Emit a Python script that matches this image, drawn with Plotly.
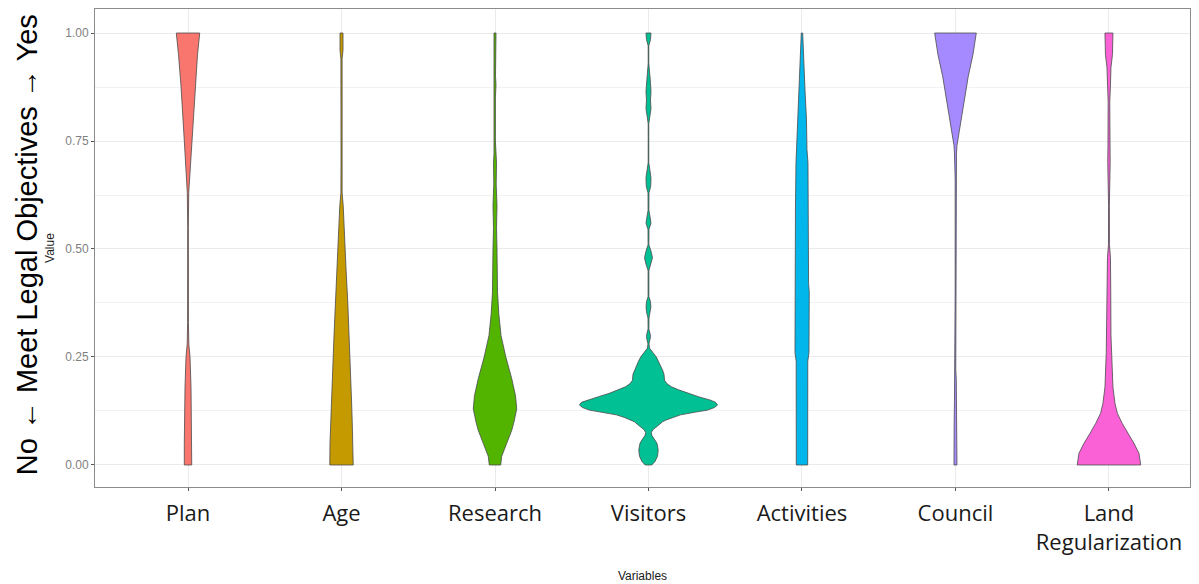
import plotly.graph_objects as go

# ---------------- data ----------------
variables = ["Plan", "Age", "Research", "Visitors", "Activities", "Council", "Land<br>Regularization"]

# density profiles: value grid and (relative) density at each value
plan_value = [0, 0.05, 0.10, 0.18, 0.25, 0.28, 0.33, 0.40, 0.44, 0.47, 0.50, 0.55, 0.63, 0.68, 0.75, 0.877, 0.95, 1.0]
plan_density = [3.7, 3.7, 3.7, 3.0, 2.0, 0.8, 0.4, 0.3, 0.2, 0.05, 0.2, 0.3, 0.7, 2.0, 3.7, 7.0, 9.5, 11.7]

age_value = [0, 0.05, 0.10, 0.15, 0.20, 0.25, 0.30, 0.375, 0.45, 0.50, 0.55, 0.60, 0.63, 0.70, 0.80, 0.90, 0.94, 0.96, 1.0]
age_density = [11.7, 11.5, 10.7, 10.0, 9.3, 8.3, 7.5, 6.3, 4.6, 3.8, 2.7, 1.7, 0.6, 0.5, 0.5, 0.5, 0.6, 1.5, 1.5]

research_value = [0, 0.02, 0.05, 0.08, 0.10, 0.13, 0.16, 0.20, 0.25, 0.30, 0.35, 0.40, 0.50, 0.55, 0.60, 0.65, 0.70, 0.72, 0.75, 0.85, 0.88, 0.90, 0.95, 1.0]
research_density = [5.7, 6.7, 11.7, 16.7, 19.0, 21.7, 20.5, 16.7, 10.8, 6.0, 3.8, 2.5, 2.0, 1.5, 2.0, 1.2, 1.5, 1.0, 0.4, 0.4, 1.0, 0.5, 1.0, 1.0]

visitors_value = [0, 0.008, 0.02, 0.035, 0.05, 0.06, 0.068, 0.075, 0.082, 0.09, 0.10, 0.104, 0.11, 0.116, 0.122,
                  0.127, 0.133, 0.139, 0.145, 0.15, 0.158, 0.166, 0.174, 0.181, 0.188, 0.196, 0.21, 0.22, 0.228,
                  0.24, 0.25, 0.26, 0.27, 0.28, 0.29, 0.297, 0.305, 0.315, 0.34, 0.355, 0.366, 0.378, 0.39, 0.45,
                  0.465, 0.48, 0.495, 0.51, 0.545, 0.56, 0.575, 0.59, 0.63, 0.645, 0.665, 0.68, 0.70, 0.79, 0.81,
                  0.825, 0.845, 0.865, 0.885, 0.90, 0.93, 0.97, 0.985, 1.0]
visitors_density = [3.3, 6.5, 9.0, 9.7, 8.5, 6.0, 3.5, 2.8, 4.5, 9.0, 14.0, 17.5, 24.0, 32.0, 46.0,
                    59.0, 66.0, 69.0, 67.0, 62.0, 50.0, 39.0, 30.0, 23.0, 18.5, 16.0, 15.5, 14.0, 12.5,
                    10.0, 7.8, 4.5, 1.2, 0.5, 1.5, 2.0, 1.5, 0.4, 0.5, 2.0, 2.4, 2.0, 0.4, 0.4,
                    2.5, 4.0, 2.5, 0.4, 0.5, 2.5, 1.5, 0.4, 0.5, 2.2, 2.5, 1.5, 0.3, 0.3, 1.5,
                    2.5, 2.0, 2.5, 2.0, 1.2, 0.3, 0.3, 2.0, 2.5]

activities_value = [0, 0.10, 0.24, 0.26, 0.30, 0.40, 0.42, 0.60, 0.70, 0.73, 0.80, 0.87, 0.95, 1.0]
activities_density = [5.7, 5.8, 5.8, 7.0, 7.3, 7.3, 6.6, 6.5, 6.0, 5.0, 4.5, 3.0, 1.5, 0.7]

council_value = [0, 0.10, 0.15, 0.20, 0.22, 0.40, 0.66, 0.67, 0.70, 0.72, 0.74, 0.77, 0.80, 0.85, 0.90, 0.95, 1.0]
council_density = [1.5, 1.3, 1.0, 0.8, 0.3, 0.3, 0.3, 0.8, 0.8, 1.0, 1.5, 3.5, 5.5, 9.2, 12.8, 17.5, 20.8]

land_value = [0, 0.01, 0.027, 0.05, 0.073, 0.096, 0.12, 0.143, 0.18, 0.26, 0.30, 0.40, 0.48, 0.51, 0.60, 0.70,
              0.74, 0.84, 0.88, 0.92, 0.95, 1.0]
land_density = [31.7, 31.0, 30.0, 25.0, 19.0, 13.3, 8.3, 6.0, 4.0, 2.7, 2.0, 1.8, 1.5, 0.5, 0.4, 1.2,
                1.0, 0.8, 1.5, 2.0, 3.5, 4.0]

profiles = [
    (plan_value, plan_density),
    (age_value, age_density),
    (research_value, research_density),
    (visitors_value, visitors_density),
    (activities_value, activities_density),
    (council_value, council_density),
    (land_value, land_density),
]

y_ticks = [0, 0.25, 0.5, 0.75, 1.0]

# ---------------- style ----------------
colors = ["#F8766D", "#C49A00", "#53B400", "#00C094", "#00B6EB", "#A58AFF", "#FB61D7"]
VIOLIN_HALF_WIDTH = 0.45  # category units for the largest density
max_density = max(max(d) for _, d in profiles)

fig = go.Figure()
for i, ((vals, dens), col) in enumerate(zip(profiles, colors)):
    pos = i + 1
    half = [d / max_density * VIOLIN_HALF_WIDTH for d in dens]
    xs = [pos + h for h in half] + [pos - h for h in reversed(half)]
    ys = list(vals) + list(reversed(vals))
    xs.append(xs[0])
    ys.append(ys[0])
    fig.add_trace(go.Scatter(
        x=xs, y=ys, mode="lines", fill="toself", fillcolor=col,
        line=dict(color="#4a4a4a", width=0.8), hoverinfo="skip", showlegend=False,
    ))

fig.update_layout(
    width=1199, height=584,
    margin=dict(l=95, r=9, t=9, b=97),
    paper_bgcolor="white", plot_bgcolor="white",
    showlegend=False,
)

fig.update_xaxes(
    range=[0.394, 7.528], automargin=False,
    tickmode="array", tickvals=list(range(1, len(variables) + 1)), ticktext=variables,
    tickfont=dict(family="Open Sans", size=22, color="#1a1a1a"),
    ticks="outside", ticklen=3, tickcolor="#555555", ticklabelstandoff=4,
    showgrid=True, gridcolor="#ebebeb", gridwidth=1,
    showline=True, mirror=True, linecolor="#8c8c8c", linewidth=1,
    zeroline=False,
    title=dict(text="Variables", font=dict(family="Liberation Sans", size=12, color="#1a1a1a"), standoff=16),
)
fig.update_yaxes(
    range=[-0.051, 1.0556], automargin=False,
    tickmode="array", tickvals=y_ticks, ticktext=[f"{v:.2f}" for v in y_ticks],
    tickfont=dict(family="Liberation Sans", size=12, color="#7f7f7f"),
    ticks="outside", ticklen=3, tickcolor="#555555",
    showgrid=True, gridcolor="#ebebeb", gridwidth=1,
    minor=dict(tickvals=[0.125, 0.375, 0.625, 0.875], showgrid=True, gridcolor="#f2f2f2", gridwidth=1, ticks=""),
    showline=True, mirror=True, linecolor="#8c8c8c", linewidth=1,
    zeroline=False,
    title=dict(text="Value", font=dict(family="Liberation Sans", size=12, color="#1a1a1a"), standoff=8),
)

fig.add_annotation(
    text="No \u2190 Meet Legal Objectives \u2192 Yes",
    xref="paper", yref="paper", x=-0.062, y=0.506,
    xanchor="center", yanchor="middle", textangle=-90, showarrow=False,
    font=dict(family="Liberation Sans", size=29, color="#000000"),
)

fig.write_html("out.html")
